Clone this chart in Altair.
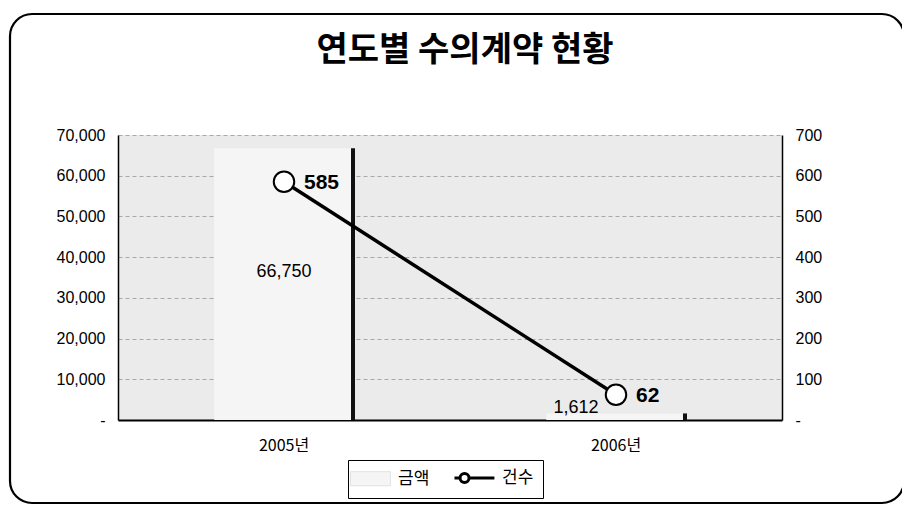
import altair as alt
import pandas as pd

# ---- data ----
years = ['2005년', '2006년']
amounts = [66750, 1612]      # 금액 (bars, left axis)
counts = [585, 62]           # 건수 (line, right axis)
series_names = ['금액', '건수']
amount_ticks = [0, 10000, 20000, 30000, 40000, 50000, 60000, 70000]
count_ticks = [0, 100, 200, 300, 400, 500, 600, 700]
title_text = '연도별 수의계약 현황'

df = pd.DataFrame({'year': years, 'amount': amounts, 'count': counts})
df['series'] = series_names[0]

FONT = 'Liberation Sans'
KFONT = 'Noto Sans CJK KR'

amount_scale = alt.Scale(domain=[amount_ticks[0], amount_ticks[-1]], nice=False)
count_scale = alt.Scale(domain=[count_ticks[0], count_ticks[-1]], nice=False)

x_enc = alt.X('year:N', sort=years,
              scale=alt.Scale(paddingInner=0.58, paddingOuter=0.29),
              axis=alt.Axis(title=None, labelAngle=0, labelFont=KFONT, labelFontSize=16,
                            labelColor='black', labelPadding=17, ticks=False,
                            domainColor='black', domainWidth=2, grid=False))

left_axis = alt.Axis(title=None, orient='left', values=amount_ticks,
                     labelExpr="datum.value == 0 ? '-' : format(datum.value, ',')",
                     labelFont=FONT, labelFontSize=16, labelColor='black', labelPadding=13,
                     ticks=False, domainColor='black', domainWidth=1.5,
                     grid=True, gridColor='#a8a8a8', gridDash=[4, 3], gridWidth=1)
right_axis = alt.Axis(title=None, orient='right', values=count_ticks,
                      labelExpr="datum.value == 0 ? '-' : format(datum.value, 'd')",
                      labelFont=FONT, labelFontSize=16, labelColor='black', labelPadding=13,
                      ticks=False, domainColor='black', domainWidth=1.5, grid=False)

legend = alt.Legend(
    title=None, orient='none', legendX=230, legendY=325, direction='horizontal',
    labelFont=KFONT, labelFontSize=17, labelColor='black', labelOffset=24,
    symbolSize=900, columnPadding=18, padding=9,
    strokeColor='black', fillColor='white', symbolOpacity=1,
    symbolType={'expr': "datum.index === 0 ? 'M-1,-0.47H1.66V0.47H-1Z' : "
                        "'M-1,0H-0.63M-0.03,0H1.66M-0.63,0A0.3,0.3 0 1 1 -0.03,0A0.3,0.3 0 1 1 -0.63,0Z'"},
    symbolStrokeColor={'expr': "datum.index === 0 ? '#e2e2e2' : 'black'"},
    symbolStrokeWidth={'expr': "datum.index === 0 ? 1 : 3"},
)

frame = alt.Chart(alt.Data(values=[{}])).mark_rect(
    fill='transparent', stroke='black', strokeWidth=2.2, cornerRadius=22
).encode(x=alt.value(-108), x2=alt.value(786), y=alt.value(-121), y2=alt.value(368))

bars = alt.Chart(df).mark_bar().encode(
    x=x_enc,
    y=alt.Y('amount:Q', scale=amount_scale, axis=left_axis),
    color=alt.Color('series:N', scale=alt.Scale(domain=series_names, range=['#f5f5f5', '#ffffff']),
                    legend=legend),
)

bar_edge = alt.Chart(df).mark_bar(width=4, xOffset=69, color='#111111').encode(
    x=x_enc,
    y=alt.Y('amount:Q', scale=amount_scale, axis=None),
)

amt_label_a = alt.Chart(df).transform_filter(alt.datum.year == years[0]).transform_calculate(
    mid='datum.amount / 2'
).mark_text(font=FONT, fontSize=18, color='black', dy=-12).encode(
    x=x_enc, y=alt.Y('mid:Q', scale=amount_scale, axis=None),
    text=alt.Text('amount:Q', format=','))

amt_label_b = alt.Chart(df).transform_filter(alt.datum.year == years[1]).transform_calculate(
    mid='datum.amount / 2'
).mark_text(font=FONT, fontSize=18, color='black', dx=-40, dy=-9).encode(
    x=x_enc, y=alt.Y('mid:Q', scale=amount_scale, axis=None),
    text=alt.Text('amount:Q', format=','))

line = alt.Chart(df).mark_line(color='black', strokeWidth=3.5).encode(
    x=x_enc, y=alt.Y('count:Q', scale=count_scale, axis=right_axis))

points = alt.Chart(df).mark_point(shape='circle', size=420, filled=True, fill='white',
                                  stroke='black', strokeWidth=2, opacity=1).encode(
    x=x_enc, y=alt.Y('count:Q', scale=count_scale, axis=None))

cnt_labels = alt.Chart(df).mark_text(font=FONT, fontSize=21, fontWeight='bold', color='black',
                                     align='left', dx=20, dy=1).encode(
    x=x_enc, y=alt.Y('count:Q', scale=count_scale, axis=None), text='count:Q')

chart = alt.layer(
    frame, bars, bar_edge, amt_label_a, amt_label_b, line, points, cnt_labels
).resolve_scale(y='independent').properties(
    width=664, height=285,
    autosize=alt.AutoSizeParams(type='none'),
    padding={'left': 110, 'top': 127, 'right': 120, 'bottom': 85},
    title=alt.TitleParams(title_text, font=KFONT, fontSize=34, fontWeight='bold', color='black',
                          anchor='middle', frame='bounds', offset=-55, dx=8),
    background='white',
).configure_view(fill='#ebebeb', stroke=None)

chart.save('out.html', embed_options={'renderer': 'svg', 'actions': False})
